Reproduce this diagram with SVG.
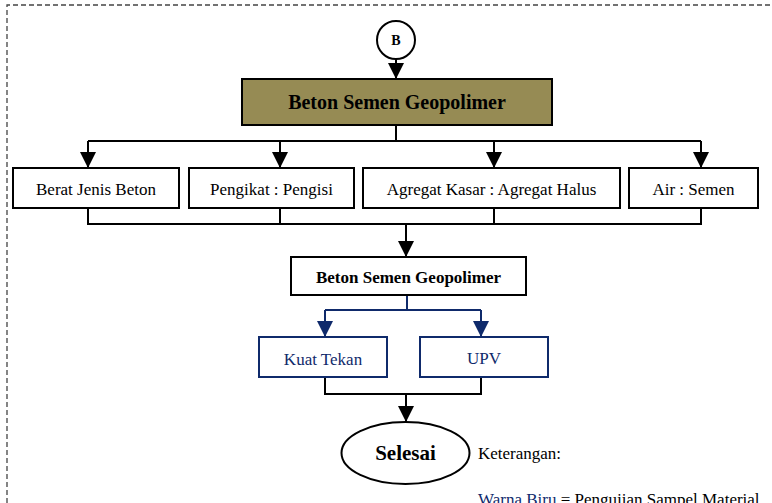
<svg xmlns="http://www.w3.org/2000/svg" width="772" height="503" viewBox="0 0 772 503">
<defs>
<marker id="ak" viewBox="0 0 16 16" markerWidth="16" markerHeight="16" refX="16" refY="8" orient="auto" markerUnits="userSpaceOnUse"><path d="M0,0 L16,8 L0,16 Z" fill="#000"/></marker>
<marker id="ab" viewBox="0 0 16 16" markerWidth="16" markerHeight="16" refX="16" refY="8" orient="auto" markerUnits="userSpaceOnUse"><path d="M0,0 L16,8 L0,16 Z" fill="#0f2a6b"/></marker>
<style>
.bx{fill:#fff;stroke:#000;stroke-width:2}
.bl{fill:#fff;stroke:#0f2a6b;stroke-width:2}
.t{font-family:"Liberation Serif","Times New Roman",serif;font-size:17px;text-anchor:middle;fill:#000}
.tb{font-family:"Liberation Serif","Times New Roman",serif;font-weight:bold;text-anchor:middle;fill:#000}
.tblue{fill:#0f2a6b}
.c{fill:none;stroke:#000;stroke-width:2}
.cb{fill:none;stroke:#0f2a6b;stroke-width:2}
</style>
</defs>
<path d="M7,503 V5 H772" fill="none" stroke="#444" stroke-width="1.3" stroke-dasharray="5,3"/>
<g id="connectors">
<path class="c" d="M396,59 V79" marker-end="url(#ak)"/>
<path class="c" d="M396,125 V141"/>
<path class="c" d="M88,141 H701"/>
<path class="c" d="M88,141 V168" marker-end="url(#ak)"/>
<path class="c" d="M280,141 V168" marker-end="url(#ak)"/>
<path class="c" d="M494,141 V168" marker-end="url(#ak)"/>
<path class="c" d="M701,141 V168" marker-end="url(#ak)"/>
<path class="c" d="M88,208 V224 H701 V208"/>
<path class="c" d="M280,208 V224"/>
<path class="c" d="M494,208 V224"/>
<path class="c" d="M406,224 V257" marker-end="url(#ak)"/>
<path class="cb" d="M407,295 V310"/>
<path class="cb" d="M325,310 H481"/>
<path class="cb" d="M325,310 V337" marker-end="url(#ab)"/>
<path class="cb" d="M481,310 V337" marker-end="url(#ab)"/>
<path class="c" d="M325,378 V394 H481 V378"/>
<path class="c" d="M406,394 V422" marker-end="url(#ak)"/>
</g>
<g id="node-b"><circle cx="396" cy="40" r="19" class="bx"/><text x="396" y="45" class="tb" font-size="14">B</text></g>
<g id="node-main"><rect x="242" y="79" width="310" height="46" fill="#968b54" stroke="#000" stroke-width="2"/><text x="397" y="109" class="tb" font-size="20">Beton Semen Geopolimer</text></g>
<g id="node-berat"><rect x="13" y="168" width="166" height="40" class="bx"/><text x="96" y="195" class="t">Berat Jenis Beton</text></g>
<g id="node-pengikat"><rect x="189" y="168" width="165" height="40" class="bx"/><text x="271.5" y="195" class="t">Pengikat : Pengisi</text></g>
<g id="node-agregat"><rect x="363" y="168" width="257" height="40" class="bx"/><text x="491.5" y="195" class="t">Agregat Kasar : Agregat Halus</text></g>
<g id="node-air"><rect x="629" y="168" width="129" height="40" class="bx"/><text x="693.5" y="195" class="t">Air : Semen</text></g>
<g id="node-beton2"><rect x="291" y="257" width="235" height="38" class="bx"/><text x="408.5" y="283" class="tb" font-size="17">Beton Semen Geopolimer</text></g>
<g id="node-kuat"><rect x="259" y="337" width="128" height="40" class="bl"/><text x="323" y="365" class="t tblue">Kuat Tekan</text></g>
<g id="node-upv"><rect x="420" y="337" width="128" height="40" class="bl"/><text x="484" y="364" class="t tblue">UPV</text></g>
<g id="node-selesai"><ellipse cx="405.5" cy="453" rx="64" ry="31" class="bx"/><text x="405.5" y="460" class="tb" font-size="21">Selesai</text></g>
<g id="legend">
<text x="478" y="459" class="t" style="text-anchor:start">Keterangan:</text>
<text x="478" y="505" class="t" style="text-anchor:start"><tspan class="tblue">Warna Biru</tspan> = Pengujian Sampel Material</text>
</g>
</svg>
